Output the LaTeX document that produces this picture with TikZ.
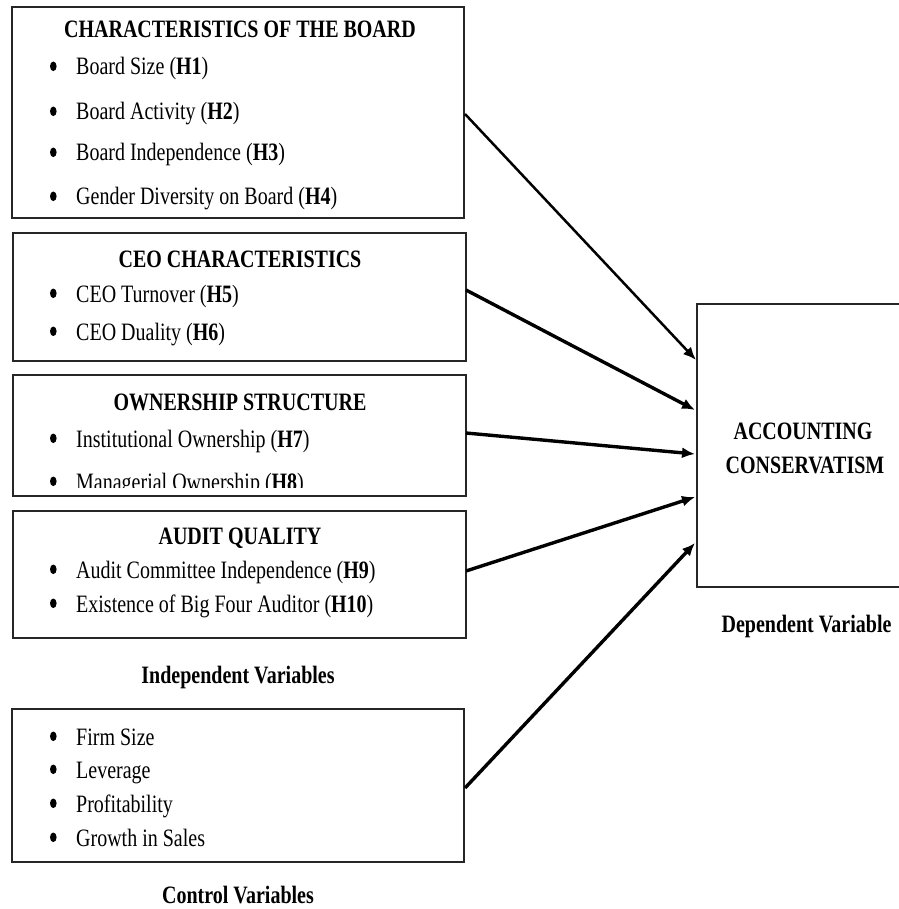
\documentclass[tikz,border=0pt]{standalone}
\usepackage{fontspec}
\setmainfont{Liberation Serif}[FakeStretch=0.8]
\usetikzlibrary{arrows.meta}
\newcommand\myitem[3]{%
  \fill (53.3,#2-8.7) ellipse [x radius=3.3pt, y radius=4.8pt];
  \node[itm] (#1) at (76,#2) {#3};}
\begin{document}
\begin{tikzpicture}[x=1pt,y=-1pt,
  box/.style={draw=black!85, line width=1.8pt, inner sep=0pt},
  ttl/.style={font=\fontsize{25}{30}\selectfont\bfseries, anchor=base, inner sep=0pt},
  itm/.style={font=\fontsize{25}{30}\selectfont, anchor=base west, inner sep=0pt},
  arr/.style={-{Latex[length=13pt,width=11pt]}, line width=3.4pt},
]
\fill[white] (0,0) rectangle (898,909);
\useasboundingbox (0,0) rectangle (898,909);

% boxes
\node[box, minimum width=452pt, minimum height=211pt] (b1) at (238,112.5) {};
\node[box, minimum width=453pt, minimum height=128pt] (b2) at (239.5,297) {};
\node[box, minimum width=453pt, minimum height=121pt] (b3) at (239.5,435.5) {};
\node[box, minimum width=453pt, minimum height=127pt] (b4) at (239.5,574.5) {};
\node[box, minimum width=452pt, minimum height=153pt] (b5) at (238,785.5) {};
\node[box, minimum width=223pt, minimum height=283pt] (dv) at (808.5,445.5) {};

% box 1
\node[ttl] (t1) at (240,38) {CHARACTERISTICS OF THE BOARD};
\myitem{i11}{75}{Board Size (\textbf{H1})}
\myitem{i12}{120}{Board Activity (\textbf{H2})}
\myitem{i13}{161}{Board Independence (\textbf{H3})}
\myitem{i14}{205}{Gender Diversity on Board (\textbf{H4})}

% box 2
\node[ttl] (t2) at (240,267) {CEO CHARACTERISTICS};
\myitem{i21}{302}{CEO Turnover (\textbf{H5})}
\myitem{i22}{340}{CEO Duality (\textbf{H6})}

% box 3
\node[ttl] (t3) at (240,410) {OWNERSHIP STRUCTURE};
\myitem{i31}{447}{Institutional Ownership (\textbf{H7})}
\begin{scope}
\clip (14,462) rectangle (465,487.5);
\myitem{i32}{490}{Managerial Ownership (\textbf{H8})}
\end{scope}

% box 4
\node[ttl] (t4) at (240,544) {AUDIT QUALITY};
\myitem{i41}{578}{Audit Committee Independence (\textbf{H9})}
\myitem{i42}{612}{Existence of Big Four Auditor (\textbf{H10})}

\node[ttl] (iv) at (238,683) {Independent Variables};

% box 5
\myitem{i51}{745}{Firm Size}
\myitem{i52}{778}{Leverage}
\myitem{i53}{812}{Profitability}
\myitem{i54}{846}{Growth in Sales}

\node[ttl] (cv) at (238,903) {Control Variables};

% dependent
\node[ttl] (ac1) at (803,439) {ACCOUNTING};
\node[ttl] (ac2) at (805,473) {CONSERVATISM};
\node[ttl] (dvl) at (806.5,632) {Dependent Variable};

% arrow endpoints
\coordinate (s1) at (465,114);
\coordinate (s2) at (466,290);
\coordinate (s3) at (466,433);
\coordinate (s4) at (466,571);
\coordinate (s5) at (465,788);
\coordinate (e1) at (696,360);
\coordinate (e2) at (695,410);
\coordinate (e3) at (695,454);
\coordinate (e4) at (695,497);
\coordinate (e5) at (695,543);

\draw[arr, line width=2.5pt] (s1) -- (e1);
\draw[arr] (s2) -- (e2);
\draw[arr] (s3) -- (e3);
\draw[arr] (s4) -- (e4);
\draw[arr] (s5) -- (e5);
\end{tikzpicture}
\end{document}
